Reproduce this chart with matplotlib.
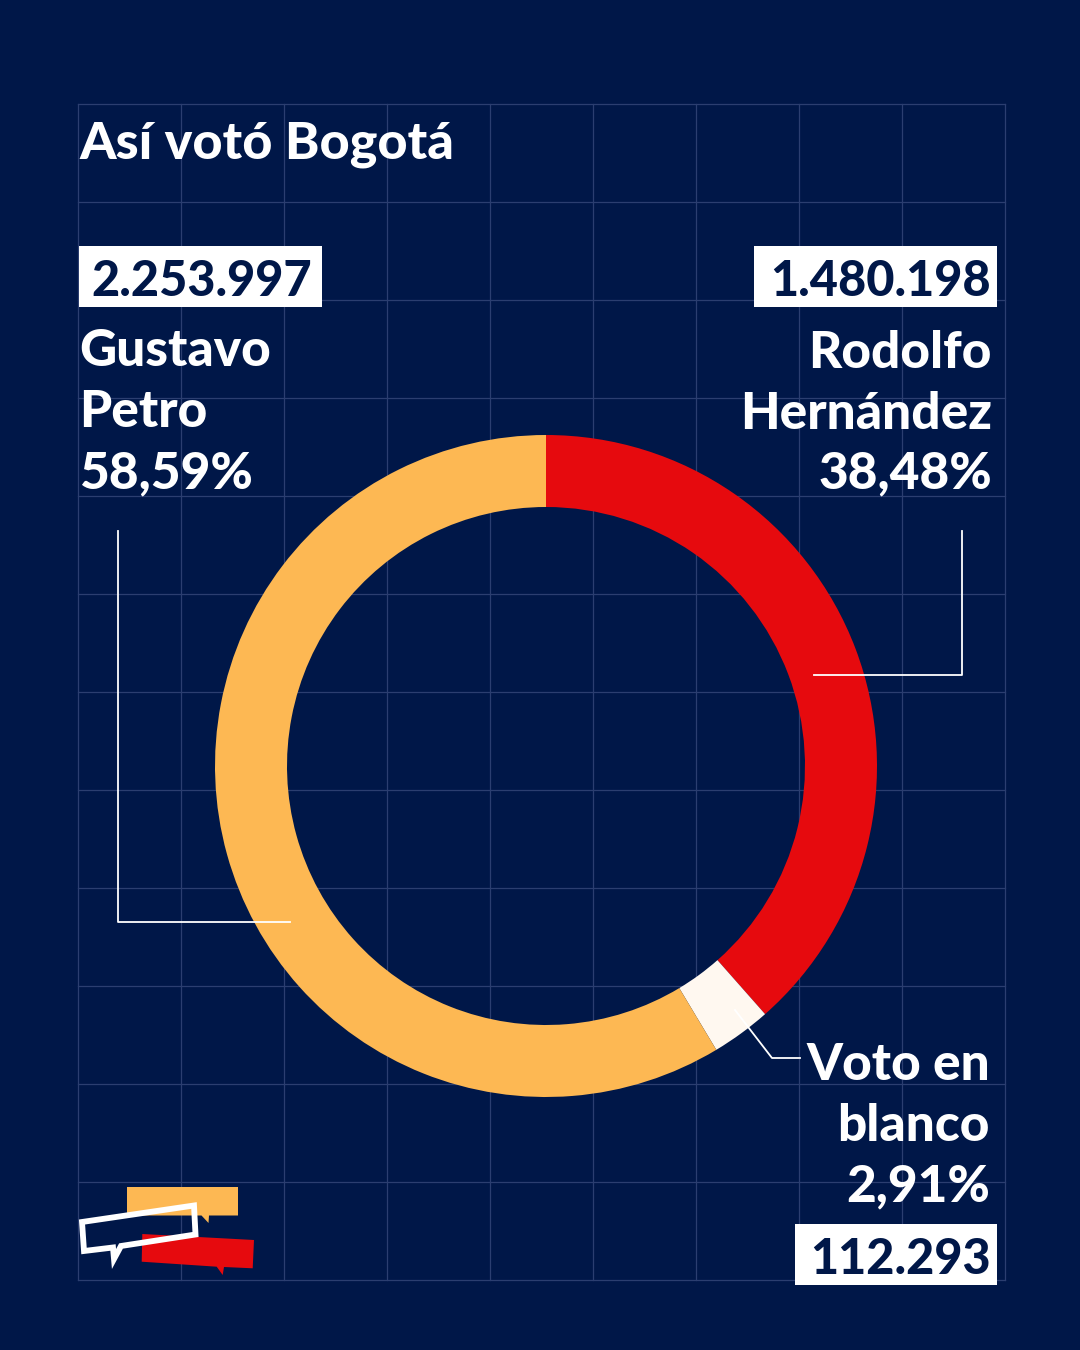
import matplotlib
matplotlib.use("Agg")
import matplotlib.pyplot as plt
from matplotlib.patches import Rectangle, Polygon

# ---- data ----
candidates = ["Rodolfo Hernández", "Voto en blanco", "Gustavo Petro"]
shares = [38.48, 2.91, 58.59]
votes = ["1.480.198", "112.293", "2.253.997"]
pct_labels = ["38,48%", "2,91%", "58,59%"]
title = "Así votó Bogotá"

BG = "#001748"
YEL = "#FDB853"
RED = "#E60A0E"
WHT = "#FFF8F0"
GRID = "#2B3E70"
NAVY = "#001748"
FONT = "Lato"

W, H = 1080, 1350
fig = plt.figure(figsize=(W / 100, H / 100), dpi=100, facecolor=BG)

# background axes in pixel coordinates
bg = fig.add_axes([0, 0, 1, 1])
bg.set_xlim(0, W)
bg.set_ylim(H, 0)
bg.axis("off")
bg.set_facecolor(BG)

# grid
x0, x1, y0, y1 = 78, 1005, 104, 1280
for k in range(10):
    x = x0 + (x1 - x0) * k / 9
    bg.plot([x, x], [y0, y1], color=GRID, lw=0.9, zorder=1)
for k in range(13):
    y = y0 + (y1 - y0) * k / 12
    bg.plot([x0, x1], [y, y], color=GRID, lw=0.9, zorder=1)

# donut
cx, cy, R = 546, 766, 331
pax = fig.add_axes([(cx - R) / W, (H - cy - R) / H, 2 * R / W, 2 * R / H])
pax.pie(shares, colors=[RED, WHT, YEL], startangle=90, counterclock=False,
        radius=1, wedgeprops=dict(width=72 / R, linewidth=0))
pax.set_xlim(-1, 1)
pax.set_ylim(-1, 1)
pax.set_aspect("equal")
pax.axis("off")

# top overlay axes for lines/text
ov = fig.add_axes([0, 0, 1, 1])
ov.set_xlim(0, W)
ov.set_ylim(H, 0)
ov.axis("off")
ov.patch.set_alpha(0)

tkw = dict(family=FONT, fontweight="black", color="white")

ov.text(79, 158, title, fontsize=37.5, ha="left", va="baseline", **tkw)

# leader lines
ov.plot([118, 118, 290], [531, 922, 922], color="white", lw=1.3)
ov.plot([962, 962, 814], [531, 675, 675], color="white", lw=1.3)
ov.plot([735, 772, 800], [1010, 1058, 1058], color="white", lw=1.3)

def numbox(xl, xr, yt, yb, txt, ha):
    ov.add_patch(Rectangle((xl, yt), xr - xl, yb - yt, facecolor="white",
                           edgecolor="none", zorder=3))
    xt = xl + 12 if ha == "left" else xr - 6
    ov.text(xt, yb - 11, txt, fontsize=35, ha=ha, va="baseline", zorder=4,
            family=FONT, fontweight="black", color=NAVY)

LFS = 37

# Petro
numbox(79, 322, 246, 307, votes[2], "left")
for s, yb in zip(["Gustavo", "Petro", pct_labels[2]], [366, 427, 488]):
    ov.text(79, yb, s, fontsize=LFS, ha="left", va="baseline", **tkw)

# Hernández
numbox(754, 997, 246, 307, votes[0], "right")
for s, yb in zip(["Rodolfo", "Hernández", pct_labels[0]], [368, 429, 488]):
    ov.text(992, yb, s, fontsize=LFS, ha="right", va="baseline", **tkw)

# Blanco
for s, yb in zip(["Voto en", "blanco", pct_labels[1]], [1080, 1141, 1201]):
    ov.text(990, yb, s, fontsize=LFS, ha="right", va="baseline", **tkw)
numbox(795, 997, 1224, 1285, votes[1], "right")

# logo (speech bubbles)
ov.add_patch(Polygon([(127, 1187), (238, 1187), (238, 1215.5), (209, 1215.5),
                      (208.5, 1223), (201.5, 1215.5), (127, 1215.5)],
                     closed=True, facecolor=YEL, edgecolor="none", zorder=5))
ov.add_patch(Polygon([(142.3, 1234), (254, 1240), (252.7, 1268.3), (224, 1267),
                      (222.7, 1275), (216.7, 1266.7), (141.7, 1261.7)],
                     closed=True, facecolor=RED, edgecolor="none", zorder=5))
ov.add_patch(Polygon([(82, 1222), (194, 1205.5), (195.5, 1234.5), (121, 1246),
                      (114, 1259), (113, 1247.5), (84, 1251)],
                     closed=True, facecolor="none", edgecolor="white", lw=4.2,
                     joinstyle="miter", zorder=6))

fig.savefig("out.png", dpi=100, facecolor=BG)
